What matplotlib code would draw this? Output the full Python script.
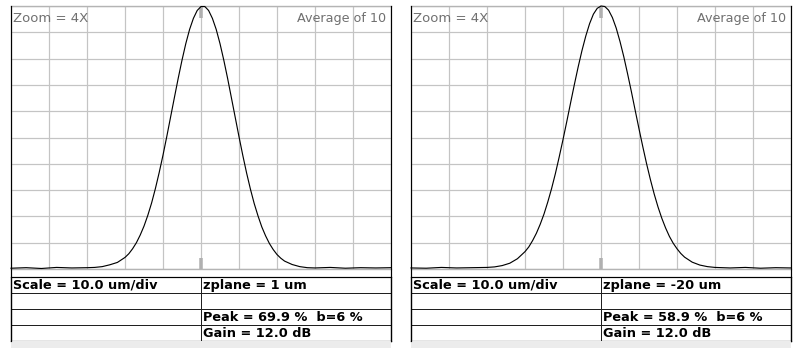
import matplotlib
matplotlib.use('Agg')
import matplotlib.pyplot as plt

# ---------------- data ----------------
# position in um (10 um/div, 10 divisions), normalized intensity in %
x_left = [-50, -46, -42, -38, -34, -30, -28, -26, -24, -22, -20, -19, -18, -17, -16,
          -15, -14, -13, -12, -11, -10, -9, -8, -7, -6, -5, -4, -3, -2, -1, 0, 1,
          2, 3, 4, 5, 6, 7, 8, 9, 10, 11, 12, 13, 14, 15, 16, 17, 18, 19, 20, 21,
          22, 24, 26, 28, 30, 34, 38, 42, 46, 50]
y_left = [0.3, 0.5, 0.2, 0.6, 0.4, 0.5, 0.6, 0.9, 1.6, 2.5, 4.4, 5.8, 7.7, 10.0, 12.9,
          16.3, 20.4, 25.1, 30.6, 36.7, 43.3, 50.4, 57.8, 65.2, 72.5, 79.4, 85.7, 91.1, 95.3, 98.3, 99.8, 99.8,
          98.3, 95.3, 91.1, 85.7, 79.4, 72.5, 65.1, 57.7, 50.3, 43.2, 36.5, 30.4, 24.9, 20.2, 16.0, 12.6, 9.7, 7.4, 5.5, 4.1,
          3.0, 1.7, 0.9, 0.5, 0.4, 0.6, 0.3, 0.5, 0.4, 0.5]

x_right = [-50, -46, -42, -38, -34, -30, -28, -26, -24, -22, -20, -19, -18, -17, -16,
           -15, -14, -13, -12, -11, -10, -9, -8, -7, -6, -5, -4, -3, -2, -1, 0, 1,
           2, 3, 4, 5, 6, 7, 8, 9, 10, 11, 12, 13, 14, 15, 16, 17, 18, 19, 20, 21,
           22, 24, 26, 28, 30, 34, 38, 42, 46, 50]
y_right = [0.4, 0.3, 0.6, 0.4, 0.5, 0.6, 0.8, 1.3, 2.2, 3.9, 6.6, 8.4, 10.8, 13.6, 17.0,
           20.9, 25.5, 30.6, 36.3, 42.6, 49.2, 56.1, 63.2, 70.2, 76.9, 83.1, 88.6, 93.3, 96.9, 99.1, 100.0, 99.8,
           98.4, 95.6, 91.6, 86.5, 80.7, 74.2, 67.4, 60.3, 53.3, 46.5, 40.0, 34.0, 28.5, 23.6, 19.3, 15.6, 12.4, 9.8, 7.7, 5.9,
           4.5, 2.6, 1.5, 0.9, 0.6, 0.4, 0.6, 0.3, 0.5, 0.4]

zoom_labels = ['Zoom = 4X', 'Zoom = 4X']
avg_labels = ['Average of 10', 'Average of 10']
scale_labels = ['Scale = 10.0 um/div', 'Scale = 10.0 um/div']
zplane_labels = ['zplane = 1 um', 'zplane = -20 um']
peak_labels = ['Peak = 69.9 %  b=6 %', 'Peak = 58.9 %  b=6 %']
gain_labels = ['Gain = 12.0 dB', 'Gain = 12.0 dB']

# ---------------- layout ----------------
W, H = 793, 348
fig = plt.figure(figsize=(W / 100, H / 100), dpi=100)
fig.patch.set_facecolor('white')


def frac(x0, y0, x1, y1):
    return [x0 / W, 1 - y1 / H, (x1 - x0) / W, (y1 - y0) / H]


GRID = '#c4c4c4'
MARK = '#b0b0b0'
px = 0.72  # one pixel in points

panels = [(11, 391, x_left, y_left), (411, 791, x_right, y_right)]

for i, (x0, x1, xs, ys) in enumerate(panels):
    # outer frame (left/right black borders running down through table)
    fr = fig.add_axes(frac(x0, 6, x1, 341))
    fr.set_facecolor('none')
    fr.set_xticks([]); fr.set_yticks([])
    for s in ['top', 'bottom']:
        fr.spines[s].set_visible(False)
    for s in ['left', 'right']:
        fr.spines[s].set_color('black')
        fr.spines[s].set_linewidth(1.2 * px)
    fr.set_zorder(5)

    # plot area
    ax = fig.add_axes(frac(x0, 6, x1, 269))
    ax.set_xlim(-50, 50)
    ax.set_ylim(0, 100)
    ax.set_xticks(range(-50, 51, 10))
    ax.set_yticks(range(0, 101, 10))
    ax.tick_params(length=0, labelbottom=False, labelleft=False)
    ax.set_axisbelow(True)
    ax.grid(True, color=GRID, linewidth=1.2 * px)
    for s in ['top', 'bottom']:
        ax.spines[s].set_color('#b4b4b4')
        ax.spines[s].set_linewidth(1.4 * px)
    for s in ['left', 'right']:
        ax.spines[s].set_visible(False)
    # center markers
    ax.plot([0, 0], [95.5, 100], color=MARK, linewidth=3.5 * px, solid_capstyle='butt', zorder=1.5)
    ax.plot([0, 0], [0, 4.2], color=MARK, linewidth=3.5 * px, solid_capstyle='butt', zorder=1.5)
    # curve
    ax.plot(xs, ys, color='black', linewidth=1.15 * px, zorder=3, clip_on=False)
    # labels
    ax.text(0.006, 0.976, zoom_labels[i], transform=ax.transAxes, ha='left', va='top',
            fontsize=9.5, color='#707070', family='DejaVu Sans')
    ax.text(0.988, 0.976, avg_labels[i], transform=ax.transAxes, ha='right', va='top',
            fontsize=9.2, color='#707070', family='DejaVu Sans')

    # table
    tb = fig.add_axes(frac(x0, 277, x1, 341))
    tb.set_xlim(0, 1)
    tb.set_ylim(0, 4)
    tb.set_xticks([]); tb.set_yticks([])
    tb.set_facecolor('white')
    for s in tb.spines.values():
        s.set_color('black')
        s.set_linewidth(1.2 * px)
    for yl in [1, 2, 3]:
        tb.axhline(yl, color='#202020', linewidth=1.0 * px)
    tb.axvline(0.5, color='#202020', linewidth=1.0 * px)
    cells = [(0, 3.5, scale_labels[i]), (0.5, 3.5, zplane_labels[i]),
             (0.5, 1.5, peak_labels[i]), (0.5, 0.5, gain_labels[i])]
    for cx, cy, t in cells:
        tb.text(cx + 0.006, cy - 0.03, t, ha='left', va='center', fontsize=9.3,
                fontweight='bold', color='black', family='DejaVu Sans')

    # grey strip under the panel
    st = fig.add_axes(frac(x0, 341, x1, 348))
    st.set_facecolor('#ececec')
    st.set_xticks([]); st.set_yticks([])
    for s in st.spines.values():
        s.set_visible(False)

fig.savefig('out.png', dpi=100, facecolor='white')
